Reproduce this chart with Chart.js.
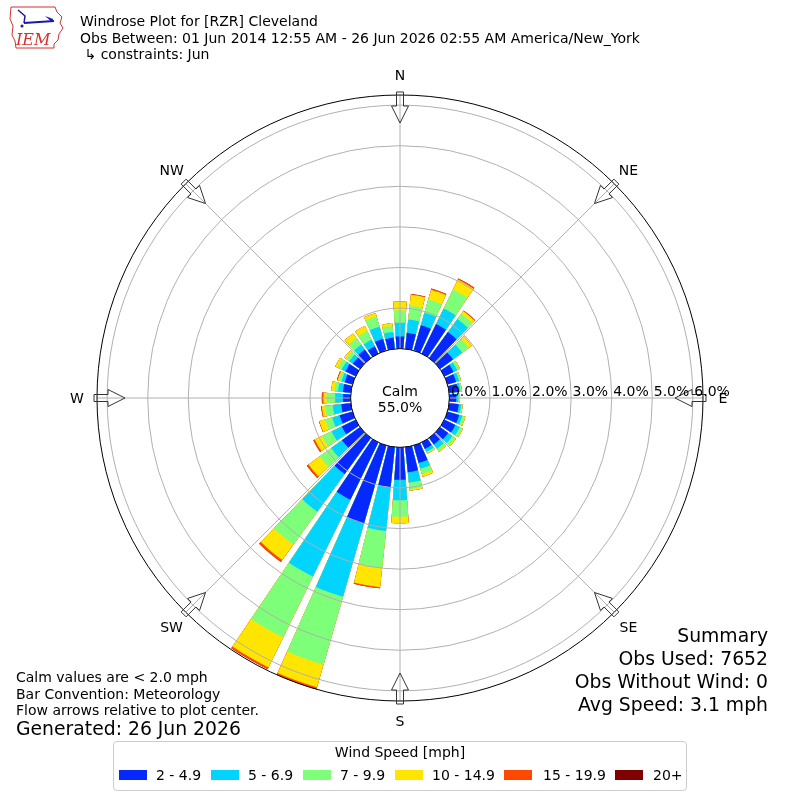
<!DOCTYPE html>
<html>
<head>
<meta charset="utf-8">
<script src="https://cdn.jsdelivr.net/npm/chart.js@4.4.1/dist/chart.umd.min.js"></script>
<style>
  html, body { margin: 0; padding: 0; background: #fff; }
  body { width: 800px; height: 800px; position: relative; overflow: hidden; font-family: "DejaVu Sans", sans-serif; color: #000; }
  #rose { position: absolute; left: 0; top: 0; }
  .t { position: absolute; white-space: pre; line-height: 1; }
  #legendBox { position: absolute; left: 113px; top: 741px; width: 574px; height: 50px; border: 1px solid #cccccc; border-radius: 4px; box-sizing: border-box; }
  .patch { position: absolute; top: 770px; width: 28px; height: 10px; }
</style>
</head>
<body>
<canvas id="rose" width="800" height="800"></canvas>

<svg style="position:absolute;left:8px;top:4px" width="58" height="48" viewBox="0 0 58 48">
  <path d="M3 3 L47 3 L49 8 L54 13 L52 19 L55 24 L51 30 L50 36 L46 40 L46 44 L8 44 L7 37 L4 31 L5 22 L2 15 Z" fill="none" stroke="#d43030" stroke-width="1"/>
  <line x1="16" y1="19" x2="46" y2="17" stroke="#1a1aa0" stroke-width="2"/>
  <path d="M10 6 L17 12 L16 19" fill="none" stroke="#1a1aa0" stroke-width="1.5"/>
  <path d="M37 12 L45 15 L44 18 Z" fill="#1a1aa0"/>
  <circle cx="14" cy="22" r="1.5" fill="#1a1aa0"/>
  <text x="8" y="41" font-family="DejaVu Serif, serif" font-style="italic" font-size="16" fill="#d43030">IEM</text>
</svg>

<div id="legendBox"></div>

<script>
// wind directions (degrees, bars centred on them)
const directions = [0, 10, 20, 30, 40, 50, 60, 70, 80, 90, 100, 110, 120, 130, 140, 150, 160, 170,
  180, 190, 200, 210, 220, 230, 240, 250, 260, 270, 280, 290, 300, 310, 320, 330, 340, 350];

const speedBins = ["2 - 4.9", "5 - 6.9", "7 - 9.9", "10 - 14.9", "15 - 19.9", "20+"];

// percent of observations per direction and speed bin
const bin2to5 = [0.30, 0.40, 0.65, 0.81, 0.79, 0.40, 0.25, 0.22, 0.22, 0.17, 0.24, 0.30,
  0.30, 0.25, 0.20, 0.18, 0.45, 0.62, 0.80, 1.00, 2.00, 1.57, 1.10, 0.55,
  0.38, 0.33, 0.24, 0.19, 0.20, 0.20, 0.28, 0.22, 0.26, 0.20, 0.30, 0.28];
const bin5to7 = [0.34, 0.33, 0.32, 0.43, 0.40, 0.28, 0.10, 0.08, 0.06, 0.05, 0.06, 0.08,
  0.12, 0.13, 0.13, 0.08, 0.15, 0.26, 0.50, 1.08, 1.88, 2.11, 1.15, 0.33,
  0.28, 0.19, 0.21, 0.19, 0.12, 0.08, 0.10, 0.11, 0.15, 0.18, 0.31, 0.14];
const bin7to10 = [0.30, 0.34, 0.34, 0.52, 0.16, 0.20, 0.06, 0.04, 0.03, 0.03, 0.03, 0.06,
  0.07, 0.08, 0.07, 0.04, 0.13, 0.16, 0.41, 0.92, 1.74, 1.67, 1.00, 0.35,
  0.26, 0.18, 0.19, 0.21, 0.09, 0.07, 0.10, 0.09, 0.20, 0.24, 0.26, 0.15];
const bin10to15 = [0.22, 0.27, 0.25, 0.27, 0.08, 0.09, 0.02, 0.01, 0.01, 0.01, 0.01, 0.02,
  0.02, 0.03, 0.02, 0.01, 0.07, 0.04, 0.16, 0.47, 0.58, 0.82, 0.47, 0.34,
  0.20, 0.15, 0.08, 0.08, 0.08, 0.03, 0.08, 0.06, 0.14, 0.14, 0.09, 0.07];
const bin15to20 = [0.00, 0.02, 0.03, 0.03, 0.02, 0.00, 0.00, 0.00, 0.00, 0.00, 0.00, 0.00,
  0.00, 0.00, 0.00, 0.00, 0.00, 0.00, 0.00, 0.03, 0.05, 0.05, 0.06, 0.05,
  0.04, 0.01, 0.02, 0.04, 0.00, 0.02, 0.00, 0.00, 0.00, 0.00, 0.00, 0.00];
const bin20up = [0, 0, 0, 0, 0, 0, 0, 0, 0, 0, 0, 0,
  0, 0, 0, 0, 0, 0, 0, 0, 0, 0, 0, 0,
  0, 0, 0, 0, 0, 0, 0, 0, 0, 0, 0, 0];

const radialTicks = [0, 1, 2, 3, 4, 5, 6];
const tickLabels = ["0.0%", "1.0%", "2.0%", "3.0%", "4.0%", "5.0%", "6.0%"];
const compassLabels = ["N", "NE", "E", "SE", "S", "SW", "W", "NW"];
const compassAngles = [0, 45, 90, 135, 180, 225, 270, 315];
const calmPercent = "55.0%";

const seriesValues = [bin2to5, bin5to7, bin7to10, bin10to15, bin15to20, bin20up];
const binColors = ["#0528ff", "#00d4ff", "#7dff7a", "#ffe500", "#ff4800", "#800000"];

const rMin = -1.217;   // puts 0% on the calm circle
const rMax = 6.25;
const barAngle = 8;
const gapAngle = 2;

// stacked bars: each dataset is the running total, drawn largest first
const cumulative = [];
let running = directions.map(() => 0);
seriesValues.forEach(vals => {
  running = running.map((s, i) => s + vals[i]);
  cumulative.push(running.slice());
});

const labels = [];
directions.forEach(d => { labels.push(d + "°"); labels.push(""); });

const datasets = cumulative.map((cum, k) => ({
  label: speedBins[k],
  data: cum.flatMap(v => [v, 0]),
  backgroundColor: ctx => (ctx.dataIndex % 2 ? "rgba(0,0,0,0)" : binColors[k]),
  borderWidth: 0,
  angle: ctx => (ctx.dataIndex % 2 ? gapAngle : barAngle)
}));

function rad(a) { return (a - 90) * Math.PI / 180; }

const roseDecor = {
  id: "roseDecor",
  afterDatasetsDraw(chart) {
    const sc = chart.scales.r;
    const ctx = chart.ctx;
    const outer = sc.getDistanceFromCenterForValue(rMax);
    const calmR = sc.getDistanceFromCenterForValue(0);
    ctx.save();
    ctx.strokeStyle = "#b0b0b0";
    ctx.lineWidth = 1;
    compassAngles.forEach(a => {
      ctx.beginPath();
      ctx.moveTo(sc.xCenter, sc.yCenter);
      ctx.lineTo(sc.xCenter + outer * Math.cos(rad(a)), sc.yCenter + outer * Math.sin(rad(a)));
      ctx.stroke();
    });
    ctx.fillStyle = "#fff";
    ctx.beginPath();
    ctx.arc(sc.xCenter, sc.yCenter, calmR, 0, 2 * Math.PI);
    ctx.fill();
    ctx.restore();
  },
  afterDraw(chart) {
    const sc = chart.scales.r;
    const ctx = chart.ctx;
    const outer = sc.getDistanceFromCenterForValue(rMax);
    const shape = [[3, -3.5], [-11, -3.5], [-11, -8.5], [-28, 0], [-11, 8.5], [-11, 3.5], [3, 3.5]];
    ctx.save();
    ctx.strokeStyle = "#333";
    ctx.lineWidth = 1;
    compassAngles.forEach(a => {
      const t = rad(a);
      const ux = Math.cos(t), uy = Math.sin(t);
      ctx.beginPath();
      shape.forEach((p, i) => {
        const r = outer + p[0];
        const x = sc.xCenter + r * ux - p[1] * uy;
        const y = sc.yCenter + r * uy + p[1] * ux;
        if (i === 0) ctx.moveTo(x, y); else ctx.lineTo(x, y);
      });
      ctx.closePath();
      ctx.stroke();
    });
    ctx.restore();
  }
};

const chart = new Chart(document.getElementById("rose"), {
  type: "polarArea",
  data: { labels: labels, datasets: datasets },
  options: {
    responsive: false,
    animation: false,
    layout: { padding: { left: 97, right: 97, top: 95, bottom: 99 } },
    plugins: { legend: { display: false }, tooltip: { enabled: false } },
    scales: {
      r: {
        min: rMin,
        max: rMax,
        startAngle: -barAngle / 2,
        ticks: { display: false },
        afterBuildTicks: scale => {
          scale.ticks = radialTicks.concat([rMax]).map(v => ({ value: v }));
        },
        angleLines: { display: false },
        pointLabels: { display: false },
        grid: {
          z: 1,
          circular: true,
          color: ctx => (ctx.tick && (ctx.tick.value === 0 || ctx.tick.value === rMax) ? "#000" : "#b0b0b0"),
          lineWidth: 1
        }
      }
    }
  },
  plugins: [roseDecor]
});

// text overlays
function addText(text, x, baseline, size, align) {
  const d = document.createElement("div");
  d.className = "t";
  d.textContent = text;
  d.style.fontSize = size + "px";
  d.style.top = (baseline - 0.846 * size) + "px";
  if (align === "right") {
    d.style.right = (800 - x) + "px";
  } else {
    d.style.left = x + "px";
    if (align === "center") d.style.transform = "translateX(-50%)";
  }
  document.body.appendChild(d);
  return d;
}

const fs = 14;
const big = 18.8;
addText("Windrose Plot for [RZR] Cleveland", 80, 26, fs);
addText("Obs Between: 01 Jun 2014 12:55 AM - 26 Jun 2026 02:55 AM America/New_York", 80, 42.7, fs);
addText(" ↳ constraints: Jun", 80, 59.3, fs);

addText("Calm values are < 2.0 mph", 16, 682, fs);
addText("Bar Convention: Meteorology", 16, 698.5, fs);
addText("Flow arrows relative to plot center.", 16, 715, fs);
addText("Generated: 26 Jun 2026", 16, 736, big);

addText("Summary", 768, 643, big, "right");
addText("Obs Used: 7652", 768, 666, big, "right");
addText("Obs Without Wind: 0", 768, 689, big, "right");
addText("Avg Speed: 3.1 mph", 768, 712, big, "right");

const sc = chart.scales.r;
addText("Calm", sc.xCenter, sc.yCenter - 2, fs, "center");
addText(calmPercent, sc.xCenter, sc.yCenter + 14, fs, "center");

radialTicks.forEach((v, i) => {
  addText(tickLabels[i], sc.xCenter + sc.getDistanceFromCenterForValue(v) + 1.5, sc.yCenter - 2, fs);
});

const labelR = sc.getDistanceFromCenterForValue(rMax) + 20;
compassLabels.forEach((lab, i) => {
  const t = rad(compassAngles[i]);
  const x = sc.xCenter + labelR * Math.cos(t);
  const y = sc.yCenter + labelR * Math.sin(t);
  addText(lab, x, y + 0.36 * fs, fs, "center");
});

// legend
addText("Wind Speed [mph]", 400, 757, fs, "center");
const patchX = [119, 211, 303, 395, 504, 615];
const labelX = [156, 248, 340, 432, 543, 653];
speedBins.forEach((b, i) => {
  const p = document.createElement("div");
  p.className = "patch";
  p.style.left = patchX[i] + "px";
  p.style.background = binColors[i];
  document.body.appendChild(p);
  addText(b, labelX[i], 779.5, fs);
});
</script>
</body>
</html>
